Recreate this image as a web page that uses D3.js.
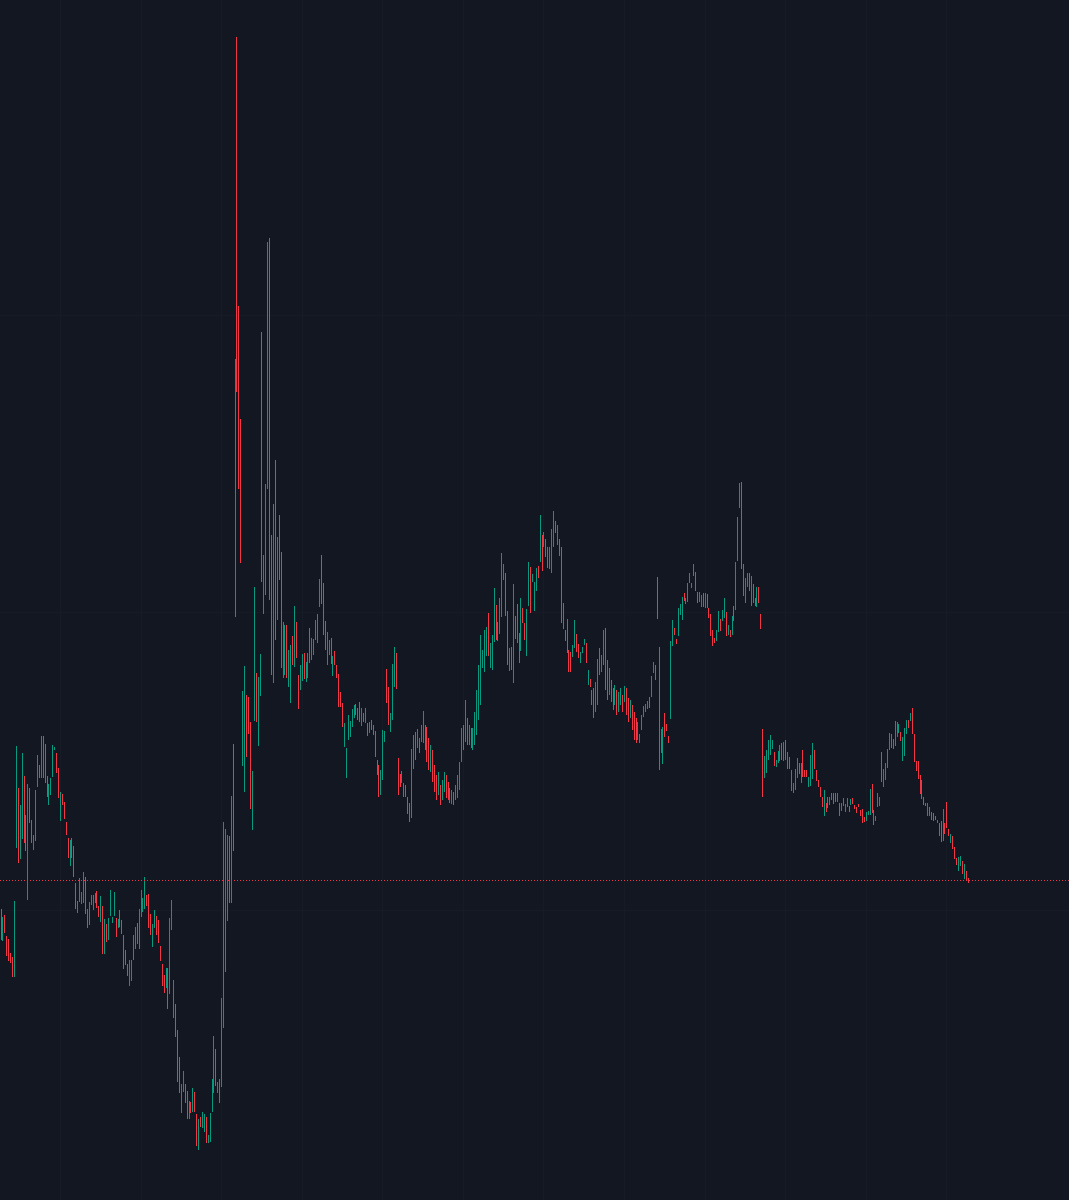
<!DOCTYPE html>
<html>
<head>
<meta charset="utf-8">
<script src="https://cdn.jsdelivr.net/npm/d3@7"></script>
<style>
  html, body { margin: 0; padding: 0; background: #131722; }
  svg { display: block; }
</style>
</head>
<body>
<div id="chart"></div>
<script>
// Bars: [open, high, low, close]
const ohlc = [
[288,291,260,263],[262,283,259,280],[283,285,267,270],[262,264,244,247],[259,261,239,243],
[246,247,237,239],[240,243,223,225],[226,299,223,296],[355,454,352,440],[410,412,337,338],
[343,395,341,390],[365,447,361,440],[420,424,357,360],[383,385,349,352],[310,416,300,410],
[410,412,377,380],[378,380,357,360],[352,365,350,363],[362,410,359,405],[415,445,413,440],
[433,435,422,424],[425,464,422,460],[462,464,422,425],[454,456,417,420],[422,424,403,405],
[397,416,395,413],[407,422,405,420],[425,455,423,452],[450,453,450,453],[445,447,427,429],
[430,432,402,404],[381,408,379,405],[405,406,395,396],[396,398,381,383],[377,378,365,366],
[360,362,342,344],[336,360,334,357],[361,362,342,343],[352,354,323,325],[316,317,291,293],
[288,299,287,297],[299,322,298,320],[297,308,296,306],[298,328,297,325],[321,323,286,288],
[290,291,272,274],
[277,298,275,295],[296,305,295,304],[291,305,290,303],[298,307,297,306],[307,309,292,294],
[293,294,283,284],[280,304,278,302],[292,294,246,248],[248,281,246,279],[275,276,258,260],
[262,282,260,280],[286,310,284,308],[278,283,277,282],[285,308,284,306],[281,282,263,265],
[273,281,272,280],[289,290,273,275],[279,280,266,267],[263,265,231,233],[249,250,235,236],
[235,236,224,225],[216,240,214,238],[221,240,219,238],[242,265,240,263],[253,273,251,271],
[276,277,256,258],[254,291,251,288],[285,310,283,307],[289,302,288,300],[293,323,291,318],
[304,305,294,295],[304,306,272,274],[285,286,265,267],[255,276,253,274],[273,290,272,288],
[283,284,265,266],[278,280,257,259],[253,254,239,240],[235,236,214,216],[224,225,207,208],
[213,232,212,230],[230,232,191,193],[210,282,206,278],[272,300,270,297],[184,220,182,218],
[195,196,163,165],[168,170,118,120],[143,143,107,107],[89,116,87,114],[110,129,108,127],
[115,116,97,98],[107,109,81,83],[83,99,81,97],[97,98,87,88],[90,112,88,110],
[107,108,88,89],[85,86,54,56],[52,81,50,78],[82,83,73,74],[73,88,72,86],
[70,86,68,84],[81,83,57,59],[58,65,57,64],[60,87,58,85],
[90,121,88,119],[110,164,107,160],[150,151,114,116],[108,118,107,117],[120,121,97,99],
[116,202,113,198],[175,378,172,370],[232,371,228,365],[282,365,279,360],[362,364,297,299],
[300,404,297,404],[454,456,349,352],[585,841,583,838],[1100,1163,808,810],[892,894,711,713],
[779,781,637,639],[436,509,434,505],[410,534,408,530],[503,505,443,445],[502,503,466,468],
[476,478,391,393],[372,429,370,426],[481,613,479,610],[525,527,478,480],[456,523,454,520],
[506,546,504,544],[866,868,618,620],[588,645,586,642],[607,716,605,713],[713,958,711,955],
[960,962,600,602],[663,665,525,527],[519,696,517,693],[738,740,560,562],[582,663,580,660],
[683,685,620,622],[646,648,532,534],[524,578,522,576],[527,575,525,572],[573,575,522,524],
[515,550,513,548],[499,555,497,552],[563,564,535,537],[535,594,533,590],[576,578,542,544],
[523,525,491,493],[512,535,510,533],[521,546,519,544],[545,547,521,523],[520,538,518,536],
[524,547,522,545],[570,572,537,539],[542,562,540,560],[546,561,545,559],[561,580,560,578],[559,586,557,584],
[595,621,593,619],[643,645,596,598],[615,617,565,567],[577,579,550,552],[537,568,535,566],
[546,560,545,558],[560,562,536,538],[526,544,524,542],[548,549,535,536],[534,535,522,523],
[524,526,493,495],[507,508,493,494],[496,497,473,474],[455,477,453,475],[424,452,422,450],
[462,485,460,483],[464,479,463,477],[474,491,473,489],[483,495,482,493],[495,496,485,486],
[491,492,480,481],[497,498,478,480],[476,492,474,490],[486,487,478,479],[478,492,477,490],
[476,477,464,465],[468,478,467,476],[479,480,470,471],[474,475,465,466],[468,469,443,445],
[439,440,425,426],[435,435,403,405],[410,430,405,427],[423,470,420,465],[459,469,458,467],[529,531,497,499],
[511,513,475,477],[469,487,468,485],[482,536,480,533],[515,553,513,550],[545,547,511,513],
[440,442,405,407],[425,426,413,414],[418,429,417,427],[416,417,403,404],[414,415,403,404],
[402,403,386,387],[396,397,378,379],[385,451,382,448],[433,465,431,462],[466,468,440,442],
[453,471,452,469],[461,462,447,448],[459,475,458,473],[459,489,457,486],[474,475,450,452],
[470,473,438,440],[460,462,430,432],[430,455,428,452],[448,450,418,420],[433,435,408,410],
[423,425,400,402],[407,428,405,425],[413,415,395,397],[402,420,400,418],[410,428,408,425],
[423,425,402,404],[417,418,400,401],[411,412,397,398],[397,410,396,408],[407,408,395,396],
[401,415,400,413],[404,425,402,422],[412,438,410,435],[440,472,438,468],[473,475,450,452],
[460,500,458,496],[480,482,455,457],[457,475,455,473],[471,472,452,454],[452,472,450,470],
[457,488,455,485],[467,510,465,506],[482,535,480,530],[498,565,495,560],[534,550,532,548],
[530,570,528,566],[546,573,544,571],[585,587,544,546],[534,557,532,555],[532,565,530,562],
[560,612,558,608],[593,595,560,562],[577,578,559,560],[568,602,566,600],[585,647,583,643],
[621,636,620,634],[625,627,584,586],[587,589,535,537],[531,552,529,550],[552,553,530,532],
[520,616,517,612],[583,584,561,562],[594,596,557,559],[566,567,537,538],[551,602,549,598],
[591,592,577,578],[576,577,560,561],[546,591,544,588],[596,638,594,635],[631,633,587,589],
[619,626,618,625],[590,618,589,616],[610,632,609,630],[633,634,622,623],[640,685,638,682],
[663,665,629,631],[654,668,653,666],[660,661,643,644],[652,653,632,634],[633,653,631,651],
[629,671,627,668],[655,689,653,686],[678,679,667,668],[656,675,655,673],[660,661,644,645],
[651,653,577,579],[596,597,571,573],[569,570,559,560],[579,581,547,549],[549,550,528,530],
[547,548,528,529],[544,555,543,553],[554,580,552,578],[565,566,548,549],[555,556,542,543],
[538,548,537,546],[548,553,547,552],[556,561,555,560],[556,557,537,538],[516,530,515,528],
[520,521,513,514],[509,510,495,496],[510,512,482,484],[490,518,488,515],[498,541,495,538],
[550,552,525,527],[530,545,528,543],[537,570,535,567],[570,572,510,512],[538,540,500,502],
[507,532,505,530],[518,520,498,500],[510,512,490,492],[497,515,495,513],[508,510,485,487],
[490,508,488,506],[496,512,495,510],[504,505,488,490],[500,514,498,512],[510,512,485,487],
[500,502,478,480],[484,500,482,498],[493,495,470,472],[486,488,460,462],[480,482,457,459],
[462,478,460,476],[458,466,457,465],[471,485,470,483],[484,494,483,492],[489,496,488,495],
[492,499,491,498],[502,503,492,493],[505,524,503,522],[528,538,527,536],[534,535,520,521],
[621,623,581,583],[550,553,430,432],[449,471,447,469],[438,473,436,470],[485,487,463,465],
[475,476,469,470],[463,464,457,457],[484,559,481,555],[556,580,554,578],[571,572,565,566],
[560,561,556,557],[566,592,564,590],[586,596,585,594],[582,603,580,600],[606,607,599,600],
[597,602,596,601],[599,617,598,615],[618,627,617,626],[613,617,612,616],[625,636,624,634],
[627,628,609,610],[607,608,597,598],[599,608,598,607],[594,605,593,604],[606,607,593,594],
[593,607,592,605],[605,606,592,593],[591,592,582,583],[585,586,564,566],[569,570,554,555],
[561,562,557,558],[560,570,559,568],[570,589,568,587],[580,581,569,570],[580,590,579,588],
[584,602,582,600],[587,588,564,566],[566,575,565,574],[569,570,563,564],[566,584,565,582],
[593,594,579,580],[592,638,590,635],[641,683,639,680],[694,717,692,715],[716,718,631,633],
[634,636,604,606],[599,622,597,620],[614,627,613,625],[626,627,609,611],[596,624,594,621],
[615,616,597,598],[601,602,594,595],[595,613,593,611],[612,613,597,598],[585,586,571,572],
[468,471,403,405],[424,444,422,442],[429,450,427,448],[442,460,440,458],[447,465,445,463],
[452,460,451,459],[447,448,434,435],[434,440,433,439],[438,449,437,447],[440,455,439,453],
[456,457,440,441],[440,458,439,456],[459,460,440,441],[447,448,431,432],[442,443,431,432],
[429,430,409,410],[408,417,407,416],[411,431,410,429],[423,442,422,440],[436,437,426,427],
[418,437,417,435],[449,450,423,424],[429,430,423,424],[429,430,423,424],[414,423,413,422],
[416,445,414,442],[423,457,421,454],[449,450,431,432],[429,430,419,420],[419,420,413,414],
[412,413,403,404],[402,403,393,394],[386,410,384,408],[396,397,388,389],
[402,403,392,393],[396,403,395,402],[401,407,400,406],[406,407,396,397],[406,407,398,399],
[399,407,398,406],[396,397,384,385],[390,397,389,396],[395,402,394,401],[389,396,388,395],
[394,402,393,401],[393,394,388,389],[396,401,395,400],[401,402,396,397],
[394,395,391,392],[392,393,387,388],[395,396,393,393],[389,390,384,385],[390,391,377,378],
[382,383,378,379],[380,388,379,387],[386,389,385,388],[387,411,385,409],
[414,416,387,389],[389,390,375,376],[380,384,379,383],[394,407,393,405],[395,403,394,402],
[446,448,418,420],[414,431,413,429],[421,437,420,435],[433,451,432,449],[451,467,450,465],
[465,466,452,453],[460,461,451,452],[456,479,454,477],[464,478,463,476],[468,476,467,475],
[467,468,459,460],[441,463,439,461],[446,472,444,470],[467,480,466,478],[479,480,472,473],
[480,487,479,486],[490,492,466,468],[465,466,438,440],[438,439,429,430],[438,439,421,422],
[424,425,406,407],[419,420,401,402],[402,403,395,396],[396,397,394,394],[385,397,384,396],
[392,393,384,385],[387,388,380,381],[386,387,379,380],[383,384,380,381],[377,380,377,379],
[376,377,364,365],[378,379,358,359],[361,391,359,388],[376,377,366,367],[396,398,372,374],
[370,371,364,365],[358,366,357,365],[363,364,351,352],[352,353,341,342],[341,342,335,336],
[330,343,329,341],[335,344,334,343],[338,339,326,327],[322,336,321,334],[328,329,320,321],
[322,322,317,320]
];

const priceDomain = [0, 1200];
const gridPrices = [290, 588, 885];
const gridBars = [31, 73, 115, 157, 199, 241, 283, 325, 367, 409, 451, 493];

const colors = { up: "#089981", down: "#F23645", bg: "#131722", grid: "#171b26" };

const W = 1069, H = 1200;
const plotRight = 967.5;

const svg = d3.select("#chart").append("svg")
  .attr("width", W).attr("height", H);

svg.append("rect").attr("width", W).attr("height", H).attr("fill", colors.bg);

const x = d3.scaleLinear().domain([0, ohlc.length - 1]).range([0.5, plotRight]);
const y = d3.scaleLinear().domain(priceDomain).range([H, 0]);

// faint grid
const grid = svg.append("g").attr("shape-rendering", "crispEdges");
grid.selectAll("line.h").data(gridPrices).join("line")
  .attr("x1", 0).attr("x2", W)
  .attr("y1", d => Math.round(y(d)) + 0.5).attr("y2", d => Math.round(y(d)) + 0.5)
  .attr("stroke", colors.grid).attr("stroke-width", 1);
grid.selectAll("line.v").data(gridBars).join("line")
  .attr("y1", 0).attr("y2", H)
  .attr("x1", d => Math.round(x(d)) + 0.5).attr("x2", d => Math.round(x(d)) + 0.5)
  .attr("stroke", colors.grid).attr("stroke-width", 1);

// bars
const g = svg.append("g").attr("shape-rendering", "crispEdges");
g.selectAll("rect.bar").data(ohlc).join("rect")
  .attr("class", "bar")
  .attr("x", (d, i) => Math.round(x(i)))
  .attr("width", 1)
  .attr("y", d => y(d[1]))
  .attr("height", d => Math.max(1, y(d[2]) - y(d[1])))
  .attr("fill", d => d[3] >= d[0] ? colors.up : colors.down);

// last price line
const last = ohlc[ohlc.length - 1][3];
svg.append("line")
  .attr("x1", 0).attr("x2", W)
  .attr("y1", Math.round(y(last)) + 0.5).attr("y2", Math.round(y(last)) + 0.5)
  .attr("stroke", colors.down).attr("stroke-width", 1)
  .attr("stroke-dasharray", "1,2")
  .attr("shape-rendering", "crispEdges");
</script>
</body>
</html>
